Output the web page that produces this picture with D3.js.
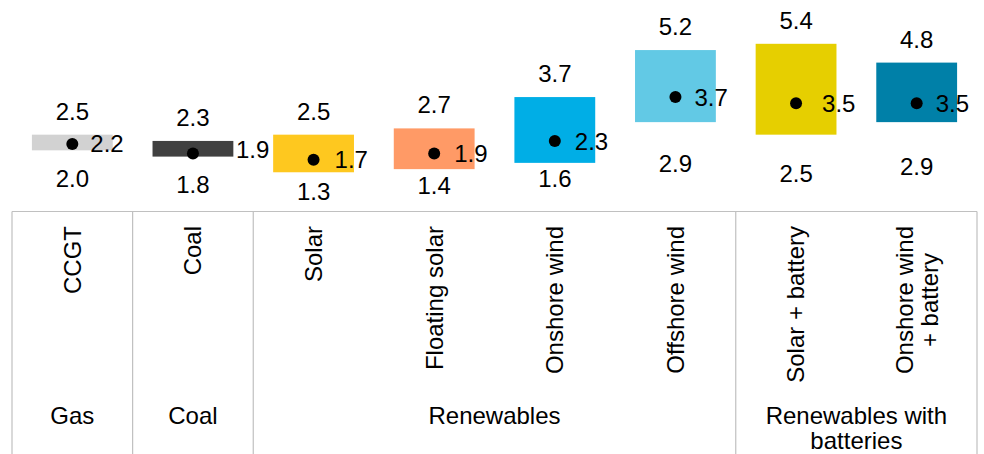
<!DOCTYPE html>
<html>
<head>
<meta charset="utf-8">
<script src="https://cdnjs.cloudflare.com/ajax/libs/d3/7.8.5/d3.min.js"></script>
<style>
  html, body { margin: 0; padding: 0; background: #ffffff; }
  svg { display: block; }
  text { font-family: "Liberation Sans", Arial, sans-serif; font-size: 24px; fill: #000; }
</style>
</head>
<body>
<svg id="chart" width="984" height="454"></svg>
<script>
// Levelised cost ranges by technology: low, central and high estimates
const categories = ["CCGT", "Coal", "Solar", "Floating solar", "Onshore wind", "Offshore wind", "Solar + battery", "Onshore wind\n+ battery"];
const lowValues  = [2.0, 1.8, 1.3, 1.4, 1.6, 2.9, 2.5, 2.9];
const midValues  = [2.2, 1.9, 1.7, 1.9, 2.3, 3.7, 3.5, 3.5];
const highValues = [2.5, 2.3, 2.5, 2.7, 3.7, 5.2, 5.4, 4.8];
const barColors  = ["#d2d2d2", "#404040", "#fec81f", "#ff9a66", "#00aee6", "#62c9e5", "#e6cf00", "#0080a8"];

// Category groups shown in the bottom row of the table
const groupNames = ["Gas", "Coal", "Renewables", "Renewables with\nbatteries"];
const groupSizes = [1, 1, 4, 2];

// Hand-placed label nudges (px)
const lowLabelOffset = [37, 36, 28, 25, 24, 50, 47, 53];
const midLabelDx     = [18, 43, 21, 20, 20, 19, 26, 19];
const midLabelDy     = [8, 5, 8, 9, 9, 9, 9, 9];

const svg = d3.select("#chart");
const H = 454;
const tableTop = 211.5;

const data = categories.map((c, i) => ({
  cat: c, low: lowValues[i], mid: midValues[i], high: highValues[i], color: barColors[i], i
}));

const x = d3.scaleBand().domain(categories).range([12, 977]).paddingInner(0.33).paddingOuter(0.165);
const y = d3.scaleLinear().domain([0, 6]).range([213, 25]);
const step = x.step();
const cx = d => x(d.cat) + x.bandwidth() / 2;

// Floating range bars
svg.append("g").selectAll("rect").data(data).join("rect")
  .attr("x", d => x(d.cat))
  .attr("width", x.bandwidth())
  .attr("y", d => y(d.high))
  .attr("height", d => y(d.low) - y(d.high))
  .attr("fill", d => d.color);

// Central estimate markers
svg.append("g").selectAll("circle").data(data).join("circle")
  .attr("cx", cx)
  .attr("cy", d => y(d.mid))
  .attr("r", 6)
  .attr("fill", "#000");

const fmt = d3.format(".1f");

// High labels above bars
svg.append("g").selectAll("text").data(data).join("text")
  .attr("x", cx)
  .attr("y", d => y(d.high) - 15)
  .attr("text-anchor", "middle")
  .text(d => fmt(d.high));

// Low labels below bars
svg.append("g").selectAll("text").data(data).join("text")
  .attr("x", cx)
  .attr("y", d => y(d.low) + lowLabelOffset[d.i])
  .attr("text-anchor", "middle")
  .text(d => fmt(d.low));

// Central labels beside markers
svg.append("g").selectAll("text").data(data).join("text")
  .attr("x", d => cx(d) + midLabelDx[d.i])
  .attr("y", d => y(d.mid) + midLabelDy[d.i])
  .attr("text-anchor", "start")
  .text(d => fmt(d.mid));

// Category table
const lineColor = "#c0c0c0";
const left = x(categories[0]) + x.bandwidth() / 2 - step / 2;
const right = left + step * categories.length;
const table = svg.append("g");

table.append("line")
  .attr("x1", left).attr("x2", right)
  .attr("y1", tableTop).attr("y2", tableTop)
  .attr("stroke", lineColor).attr("stroke-width", 1.2);

// Group boundaries
let acc = 0;
const bounds = [left];
groupSizes.forEach(s => { acc += s; bounds.push(left + acc * step); });
table.selectAll("line.sep").data(bounds).join("line")
  .attr("class", "sep")
  .attr("x1", d => d).attr("x2", d => d)
  .attr("y1", tableTop).attr("y2", H)
  .attr("stroke", lineColor).attr("stroke-width", 1.2);

// Rotated category labels, top-aligned, multi-line centered
const catLabelTop = 226;
const lineGap = 25;
data.forEach(d => {
  const lines = d.cat.split("\n");
  const g = table.append("g")
    .attr("transform", `translate(${cx(d)},0) rotate(-90)`);
  const texts = lines.map((ln, k) => g.append("text")
    .attr("text-anchor", "middle")
    .attr("dy", "0.35em")
    .attr("y", (k - (lines.length - 1) / 2) * lineGap)
    .text(ln));
  const maxLen = d3.max(texts, t => t.node().getComputedTextLength());
  texts.forEach(t => t.attr("x", -(catLabelTop + maxLen / 2)));
});

// Group labels
acc = 0;
groupNames.forEach((name, gi) => {
  const x0 = left + acc * step;
  acc += groupSizes[gi];
  const x1 = left + acc * step;
  const lines = name.split("\n");
  lines.forEach((ln, k) => {
    table.append("text")
      .attr("x", (x0 + x1) / 2)
      .attr("y", 424 + k * 25)
      .attr("text-anchor", "middle")
      .text(ln);
  });
});
</script>
</body>
</html>
